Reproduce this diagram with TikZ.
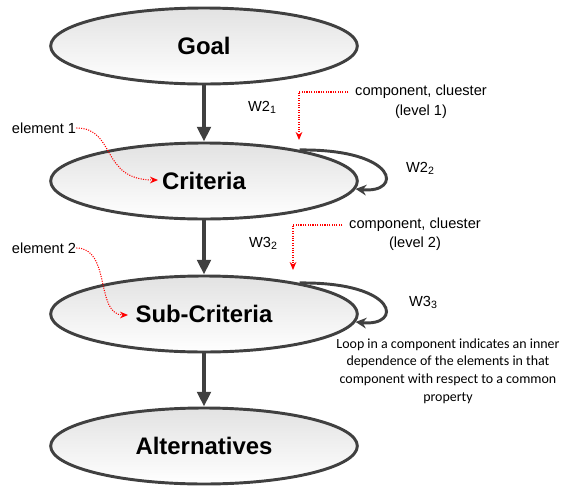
\documentclass[tikz,border=0pt]{standalone}
\usepackage{fontspec}
\setmainfont{Liberation Sans}
\newfontfamily\notefont{Carlito}
\usepackage{tikz}
\usetikzlibrary{arrows.meta,shapes,calc,positioning}
\definecolor{grisOscuro}{RGB}{64,64,64}
\definecolor{grisClaro}{RGB}{226,226,226}
\definecolor{rojo}{RGB}{255,0,0}
\tikzstyle{comp}=[ellipse, draw=grisOscuro, line width=2.2bp,
                  top color=grisClaro, bottom color=white,
                  minimum width=230bp, minimum height=57bp, inner sep=0pt,
                  font=\fontsize{18}{20}\selectfont\bfseries]
\tikzstyle{flow}=[-{Triangle[length=11bp,width=10bp]},
                  line width=3bp, draw=grisOscuro]
\tikzstyle{loopedge}=[-{Stealth[length=8bp,width=8bp]},
                  line width=2.2bp, draw=grisOscuro]
\tikzstyle{reddot}=[-{Stealth[length=6bp,width=5bp]},
                  densely dotted, line width=0.8bp, draw=rojo]
\tikzstyle{lbl}=[inner sep=0pt, font=\fontsize{11}{12}\selectfont]
\tikzstyle{nota}=[inner sep=0pt, align=center,
                  font=\notefont\fontsize{10.5}{13.3}\selectfont]
\newcommand{\wsub}[2]{W#1\raisebox{-0.25ex}{\fontsize{8}{8}\selectfont #2}}

\begin{document}
\begin{tikzpicture}[x=0.75bp,y=-0.75bp]
    \useasboundingbox (0,0) rectangle (568,486);

    % levels
    \node[comp] (goal) at (204,46) {Goal};
    \node[comp] (crit) at (204,181) {Criteria};
    \node[comp] (sub) at (204,314) {Sub-Criteria};
    \node[comp] (alt) at (204,446) {Alternatives};

    \draw[flow] (goal) -- (crit);
    \draw[flow] (crit) -- (sub);
    \draw[flow] (sub) -- (alt);

    % inner dependence loops
    \draw[loopedge] (crit.18) .. controls +(100,-1) and +(47,5) .. (crit.-3);
    \draw[loopedge] (sub.18) .. controls +(100,-1) and +(47,5) .. (sub.-3);

    % weights
    \node[lbl] (w21) at (262,107) {\wsub{2}{1}};
    \node[lbl] (w22) at (420,168) {\wsub{2}{2}};
    \node[lbl] (w32) at (263,243) {\wsub{3}{2}};
    \node[lbl] (w33) at (423,302) {\wsub{3}{3}};

    % notes
    \node[lbl] (cc1) at (421,92) {component, cluester};
    \node[lbl] (cc1lvl) at (421,112) {(level 1)};
    \node[lbl] (cc2) at (415,225) {component, cluester};
    \node[lbl] (cc2lvl) at (415,244) {(level 2)};
    \node[lbl] (el1) at (44,128) {element 1};
    \node[lbl] (el2) at (44,248) {element 2};
    \node[nota] (loopnote) at (448,371) {Loop in a component indicates an inner\\
        dependence of the elements in that\\component with respect to a common\\property};

    \coordinate (cc1tip) at (299,140);
    \coordinate (cc2tip) at (293,270);
    \coordinate (el1tip) at (158,180);
    \coordinate (el2tip) at (128,315);

    \draw[reddot] ([xshift=-5bp]cc1.west) -| (cc1tip);
    \draw[reddot] ([xshift=-5bp]cc2.west) -| (cc2tip);
    \draw[reddot] (el1.east) .. controls +(40,0) and +(-58,0) .. (el1tip);
    \draw[reddot] (el2.east) .. controls +(35,0) and +(-33,0) .. (el2tip);
\end{tikzpicture}
\end{document}
